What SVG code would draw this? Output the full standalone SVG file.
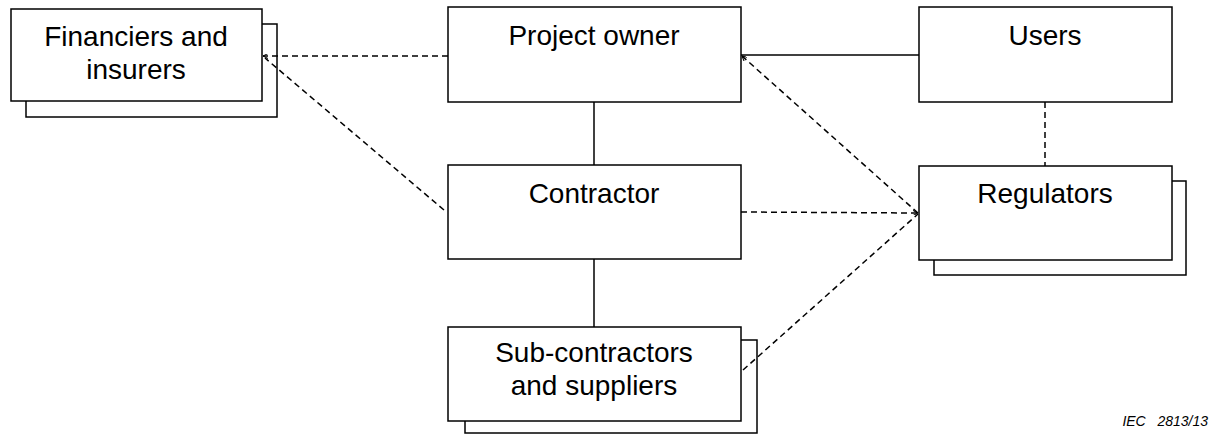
<svg xmlns="http://www.w3.org/2000/svg" width="1210" height="434" viewBox="0 0 1210 434">
<style>
.box{fill:#fff;stroke:#000;stroke-width:1.5}
.lbl{font-family:"Liberation Sans",Arial,sans-serif;font-size:28px;fill:#000;text-anchor:middle}
.solid{stroke:#000;stroke-width:1.5;fill:none}
.dash{stroke:#000;stroke-width:1.5;fill:none;stroke-dasharray:6 4}
.ref{font-family:"Liberation Sans",Arial,sans-serif;font-size:14px;font-style:italic;fill:#000;text-anchor:end}
</style>
<defs>
<marker id="arr" viewBox="0 0 10 10" refX="10" refY="5" markerWidth="5" markerHeight="5" orient="auto" markerUnits="userSpaceOnUse">
<path d="M0,0 L10,5 L0,10" fill="none" stroke="#000" stroke-width="2"/>
</marker>
</defs>
<rect width="1210" height="434" fill="#fff"/>
<g id="financiers">
<rect class="box" x="26" y="24" width="251" height="93"/>
<rect class="box" x="11" y="9" width="251" height="92"/>
<text class="lbl" x="136" y="46">Financiers and</text>
<text class="lbl" x="136" y="79">insurers</text>
</g>
<g id="project-owner">
<rect class="box" x="448" y="7" width="293" height="95"/>
<text class="lbl" x="594" y="45">Project owner</text>
</g>
<g id="users">
<rect class="box" x="919" y="7" width="253" height="95"/>
<text class="lbl" x="1045" y="45">Users</text>
</g>
<g id="contractor">
<rect class="box" x="448" y="165" width="293" height="94"/>
<text class="lbl" x="594" y="203">Contractor</text>
</g>
<g id="regulators">
<rect class="box" x="934" y="181" width="252" height="94"/>
<rect class="box" x="919" y="166" width="253" height="94"/>
<text class="lbl" x="1045" y="203">Regulators</text>
</g>
<g id="subcontractors">
<rect class="box" x="465" y="340" width="292" height="93"/>
<rect class="box" x="448" y="327" width="293" height="94"/>
<text class="lbl" x="594" y="362">Sub-contractors</text>
<text class="lbl" x="594" y="395">and suppliers</text>
</g>
<g id="connectors">
<line class="solid" x1="594" y1="102" x2="594" y2="165"/>
<line class="solid" x1="594" y1="259" x2="594" y2="327"/>
<line class="solid" x1="741" y1="55" x2="919" y2="55"/>
<line class="dash" x1="1045" y1="102" x2="1045" y2="166"/>
<line class="dash" x1="448" y1="56" x2="263" y2="56" marker-end="url(#arr)"/>
<line class="dash" x1="444" y1="210" x2="265" y2="58"/>
<line class="dash" x1="918" y1="213" x2="742" y2="56" marker-end="url(#arr)"/>
<line class="dash" x1="741" y1="212" x2="918" y2="213" marker-end="url(#arr)"/>
<line class="dash" x1="743" y1="370" x2="918" y2="214"/>
</g>
<text class="ref" x="1208" y="426" xml:space="preserve">IEC   2813/13</text>
</svg>
